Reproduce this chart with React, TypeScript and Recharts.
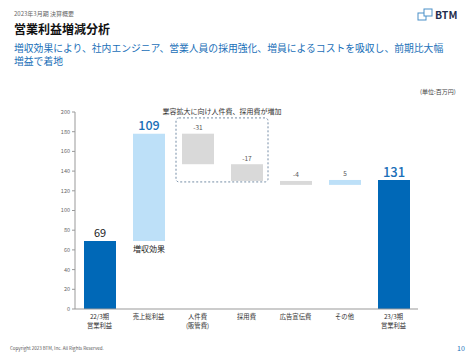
import { BarChart, Bar, XAxis, YAxis, Cell, LabelList, ReferenceArea } from "recharts";

const categories = [
  "22/3期\n営業利益",
  "売上総利益",
  "人件費\n(販管費)",
  "採用費",
  "広告宣伝費",
  "その他",
  "23/3期\n営業利益",
];
const changes = [69, 109, -31, -17, -4, 5, 131];
const kinds = ["total", "up", "down", "down", "down", "up", "total"];
const yTicks = [0, 20, 40, 60, 80, 100, 120, 140, 160, 180, 200];

const FONT = '"Noto Sans CJK JP", "Noto Sans", sans-serif';
const DARK = "#0068b7";
const LIGHT = "#bde0f8";
const GRAY = "#d9d9d9";
const BLUE_TEXT = "#1a6fb8";

const colorOf: Record<string, string> = { total: DARK, up: LIGHT, down: GRAY };

// waterfall rows: invisible base + visible piece
let running = 0;
const data = categories.map((name, i) => {
  const v = changes[i];
  const kind = kinds[i];
  if (kind === "total") {
    running = v;
    return { name, base: 0, size: v, value: v, kind };
  }
  const start = running;
  running = start + v;
  return { name, base: Math.min(start, running), size: Math.abs(v), value: v, kind };
});

function XTick(props: any) {
  const { x, y, payload } = props;
  const lines = String(payload.value).split("\n");
  return (
    <g>
      {lines.map((l, i) => (
        <text
          key={i}
          x={x}
          y={y + 2 + i * 8.5}
          textAnchor="middle"
          fontSize={6.3}
          fill="#333"
          fontFamily={FONT}
        >
          {l}
        </text>
      ))}
    </g>
  );
}

function BarLabel(props: any) {
  const { x, y, width, height, index, value } = props;
  const cx = x + width / 2;
  const kind = kinds[index];
  if (index === 0) {
    return (
      <text x={cx} y={y - 4} textAnchor="middle" fontSize={11} fill="#222" fontFamily={FONT}>
        {value}
      </text>
    );
  }
  if (kind === "total") {
    return (
      <text x={cx} y={y - 3} textAnchor="middle" fontSize={13} fontWeight={500} fill={BLUE_TEXT} fontFamily={FONT}>
        {value}
      </text>
    );
  }
  if (index === 1) {
    return (
      <g>
        <text x={cx} y={y - 4} textAnchor="middle" fontSize={12.5} fontWeight={500} fill={BLUE_TEXT} fontFamily={FONT}>
          {value}
        </text>
        <text x={cx} y={y + height + 11} textAnchor="middle" fontSize={8} fill="#222" fontFamily={FONT}>
          増収効果
        </text>
      </g>
    );
  }
  return (
    <text x={cx} y={y - 3.5} textAnchor="middle" fontSize={6.5} fill="#555" fontFamily={FONT}>
      {value}
    </text>
  );
}

function DashedBox(p: any) {
  return (
    <rect
      x={p.x + 3}
      y={p.y}
      width={p.width - 6}
      height={p.height}
      rx={3}
      fill="none"
      stroke="#50708f"
      strokeWidth={0.8}
      strokeDasharray="2 2"
    />
  );
}

function Logo() {
  return (
    <div style={{ position: "absolute", left: 417, top: 8, display: "flex", alignItems: "center" }}>
      <svg width={17} height={13} viewBox="0 0 17 13">
        <rect x={1} y={5} width={8} height={7} fill="none" stroke="#4a90c8" strokeWidth={1} />
        <rect x={7} y={1} width={8} height={7} fill="#ffffff" stroke="#4a90c8" strokeWidth={1} />
      </svg>
      <span style={{ fontFamily: FONT, fontWeight: 700, fontSize: 10.5, lineHeight: "12px", color: "#1f2d4d", marginLeft: 1 }}>
        BTM
      </span>
    </div>
  );
}

export default function App() {
  return (
    <div
      style={{
        position: "absolute",
        left: 0,
        top: 0,
        width: 474,
        height: 355,
        background: "#fff",
        fontFamily: FONT,
        overflow: "hidden",
      }}
    >
      <div style={{ position: "absolute", left: 14, top: 9, fontSize: 6, color: "#666" }}>2023年3月期 決算概要</div>
      <div style={{ position: "absolute", left: 14, top: 20, fontSize: 12, fontWeight: 700, color: "#111" }}>
        営業利益増減分析
      </div>
      <div
        style={{ position: "absolute", left: 14, top: 43, whiteSpace: "nowrap", fontSize: 9.8, lineHeight: "10px", color: BLUE_TEXT }}
      >
        増収効果により、社内エンジニア、営業人員の採用強化、増員によるコストを吸収し、前期比大幅
      </div>
      <div
        style={{ position: "absolute", left: 14, top: 55.5, whiteSpace: "nowrap", fontSize: 9.8, lineHeight: "10px", color: BLUE_TEXT }}
      >
        増益で着地
      </div>
      <Logo />
      <div style={{ position: "absolute", left: 420, top: 87, fontSize: 6, color: "#444" }}>(単位:百万円)</div>

      <div style={{ position: "absolute", left: 0, top: 0 }}>
        <BarChart
          width={474}
          height={355}
          data={data}
          margin={{ top: 112, right: 56, bottom: 16, left: 40 }}
          barSize={32}
        >
          <XAxis
            dataKey="name"
            tick={<XTick />}
            tickLine={false}
            axisLine={{ stroke: "#999" }}
            interval={0}
            height={30}
          />
          <YAxis
            domain={[0, 200]}
            ticks={yTicks}
            width={35}
            tick={{ fontSize: 5.5, fill: "#666", fontFamily: FONT }}
            tickSize={3}
            tickLine={{ stroke: "#999" }}
            axisLine={{ stroke: "#999" }}
          />
          <ReferenceArea
            x1={categories[2]}
            x2={categories[3]}
            y1={129}
            y2={194}
            shape={<DashedBox />}
            label={{ value: "業容拡大に向け人件費、採用費が増加", position: "top", fontSize: 7, fill: "#333", offset: 4 }}
          />
          <Bar dataKey="base" stackId="w" fill="transparent" isAnimationActive={false} />
          <Bar dataKey="size" stackId="w" isAnimationActive={false}>
            {data.map((d, i) => (
              <Cell key={i} fill={colorOf[d.kind]} />
            ))}
            <LabelList dataKey="value" content={<BarLabel />} />
          </Bar>
        </BarChart>
      </div>

      <div style={{ position: "absolute", left: 10, top: 345, fontSize: 4.5, color: "#555" }}>
        Copyright 2023 BTM, Inc. All Rights Reserved.
      </div>
      <div style={{ position: "absolute", left: 457, top: 343, fontSize: 7, color: BLUE_TEXT }}>10</div>
    </div>
  );
}
